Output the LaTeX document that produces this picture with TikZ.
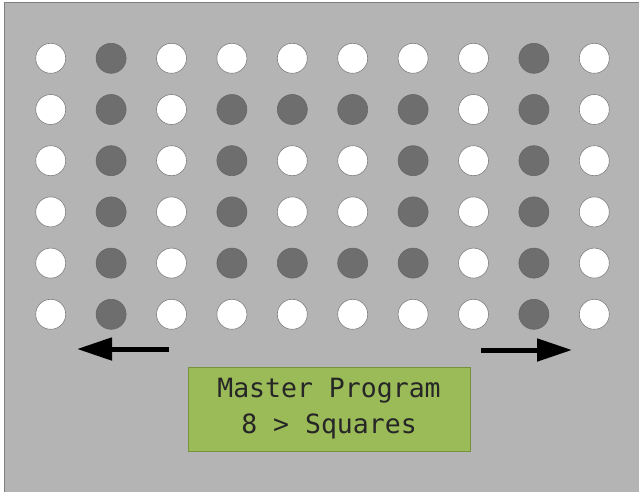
\documentclass[tikz,border=0pt]{standalone}
\usepackage{fontspec}
\setmonofont{DejaVu Sans Mono}
\usetikzlibrary{arrows.meta}
\definecolor{panelGray}{HTML}{B4B4B4}
\definecolor{edgeGray}{HTML}{7F7F7F}
\definecolor{dotDark}{HTML}{6E6E6E}
\definecolor{lcdGreen}{HTML}{9BBB59}
\definecolor{lcdEdge}{HTML}{76923C}
\colorlet{fillw}{white}
\colorlet{filld}{dotDark}
\colorlet{linew}{edgeGray}
\colorlet{lined}{black!60}

\begin{document}
\begin{tikzpicture}[
    x=1pt, y=-1pt,
    dot/.style={circle, draw=line#1, fill=fill#1, line width=0.6pt, minimum size=30pt, inner sep=0pt},
    lcd/.style={draw=lcdEdge, fill=lcdGreen, minimum width=282pt, minimum height=84pt, align=center,
                font=\ttfamily\fontsize{26.5}{36}\selectfont, text=black!85},
    arrow/.style={-{Triangle[length=35pt, width=22pt]}, line width=5pt}
]
    \useasboundingbox (0,0) rectangle (639,492);
    \fill[panelGray] (4,2) rectangle (639,492);
    \draw[edgeGray] (4,492) -- (4,2) -- (639,2);

    % w = light dot, d = dark dot
    \foreach \r/\pattern in {1/{w,d,w,w,w,w,w,w,d,w},
                             2/{w,d,w,d,d,d,d,w,d,w},
                             3/{w,d,w,d,w,w,d,w,d,w},
                             4/{w,d,w,d,w,w,d,w,d,w},
                             5/{w,d,w,d,d,d,d,w,d,w},
                             6/{w,d,w,w,w,w,w,w,d,w}}
      \foreach \b [count=\c] in \pattern
        \node[dot=\b] (dot-\r-\c) at ({50.7+60.4*(\c-1)}, {58.3+51.2*(\r-1)}) {};

    \coordinate (left tail) at (169,349);
    \coordinate (left tip) at (77,349);
    \coordinate (right tail) at (481,350);
    \coordinate (right tip) at (572,350);
    \draw[arrow] (left tail) -- (left tip);
    \draw[arrow] (right tail) -- (right tip);

    \node[lcd] (display) at (329,409) {Master Program\\8 > Squares};
\end{tikzpicture}
\end{document}
